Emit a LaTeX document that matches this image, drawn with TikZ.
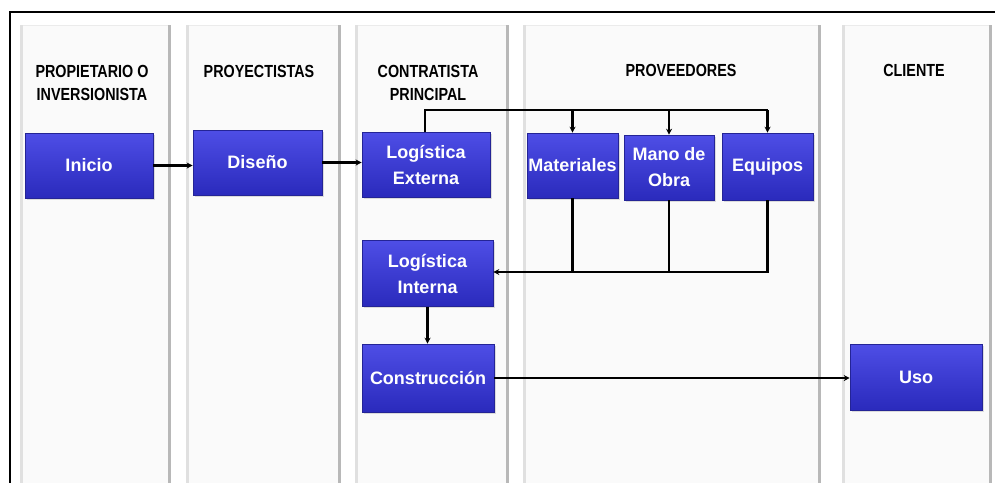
\documentclass[tikz,border=0pt]{standalone}
\usepackage{fontspec}
\setmainfont{Liberation Sans}
\newfontfamily\hdrfont[FakeStretch=0.82]{Liberation Sans}
\usetikzlibrary{arrows.meta,shadows}
\definecolor{boxtop}{RGB}{78,78,230}
\definecolor{boxbot}{RGB}{42,42,188}
\definecolor{boxline}{RGB}{36,36,150}
\tikzset{
  lanebg/.style={fill=black!2, draw=none},
  laneedgeL/.style={draw=black!12, line width=3pt},
  laneedgeR/.style={draw=black!28, line width=3pt},
  bluebox/.style={rectangle, top color=boxtop, bottom color=boxbot, draw=boxline, line width=0.6pt,
    text=white, font=\fontsize{18}{26}\selectfont\bfseries, align=center, inner sep=0pt,
    drop shadow={shadow xshift=1.5pt, shadow yshift=-1.5pt, opacity=0.25}},
  header/.style={font=\hdrfont\bfseries\fontsize{17.5}{23}\selectfont, align=center, inner sep=0pt, text=black},
  conn/.style={draw=black, line width=2.2pt},
  arr/.style={conn, -{Stealth[length=6pt,width=6pt]}},
}
\begin{document}
\begin{tikzpicture}[x=1pt,y=-1pt]
\useasboundingbox (0,0) rectangle (995,482);
\fill[white] (0,0) rectangle (995,482);
% lanes
\foreach \a/\b in {20/171, 186/341, 355/509, 523/821, 842/992}{
  \path[lanebg] (\a,25) rectangle (\b,486);
  \draw[black!8, line width=1pt] (\a,25) -- (\b,25);
  \draw[laneedgeL] (\a+1.5,25) -- (\a+1.5,486);
  \draw[laneedgeR] (\b-1.5,25) -- (\b-1.5,486);
}
% outer frame
\draw[black, line width=1.8pt] (10,486) -- (10,12) -- (999,12);
% headers
\node[header] (h1) at (92,83) {PROPIETARIO O\\INVERSIONISTA};
\node[header] (h2) at (259,71) {PROYECTISTAS};
\node[header] (h3) at (428,83) {CONTRATISTA\\PRINCIPAL};
\node[header] (h4) at (681,70) {PROVEEDORES};
\node[header] (h5) at (914,70) {CLIENTE};
% boxes
\node[bluebox, minimum width=128pt, minimum height=65pt] (ini) at (89,165.5) {Inicio};
\node[bluebox, minimum width=129pt, minimum height=65pt] (dis) at (257.5,162.5) {Diseño};
\node[bluebox, minimum width=128pt, minimum height=65pt] (le) at (426,164.5) {Logística\\Externa};
\node[bluebox, minimum width=91pt, minimum height=65pt] (mat) at (572.5,165.5) {Materiales};
\node[bluebox, minimum width=90pt, minimum height=65pt] (mo) at (669,167.5) {Mano de\\Obra};
\node[bluebox, minimum width=91pt, minimum height=67pt] (eq) at (767.5,166.5) {Equipos};
\node[bluebox, minimum width=131pt, minimum height=66pt] (li) at (427.5,273.5) {Logística\\Interna};
\node[bluebox, minimum width=132pt, minimum height=68pt] (con) at (428,378) {Construcción};
\node[bluebox, minimum width=132pt, minimum height=66pt] (uso) at (916,377) {Uso};
% connectors
\coordinate (top) at (425,110);
\coordinate (bot) at (768,272);
\draw[arr] (ini.east) -- (ini.east -| dis.west);
\draw[arr] (dis.east) -- (dis.east -| le.west);
\draw[conn] (le.north -| top) -- (top) -- (top -| eq.north);
\draw[arr] (top -| mat.north) -- (mat.north);
\draw[arr] (top -| mo.north) -- (mo.north);
\draw[arr] (top -| eq.north) -- (eq.north);
\draw[conn] (mat.south) -- (mat.south |- bot);
\draw[conn] (mo.south) -- (mo.south |- bot);
\draw[arr] (eq.south) -- (eq.south |- bot) -- (li.east |- bot);
\draw[arr] (li.south) -- (li.south |- con.north);
\draw[arr] (con.east) -- (con.east -| uso.west);
\end{tikzpicture}
\end{document}
